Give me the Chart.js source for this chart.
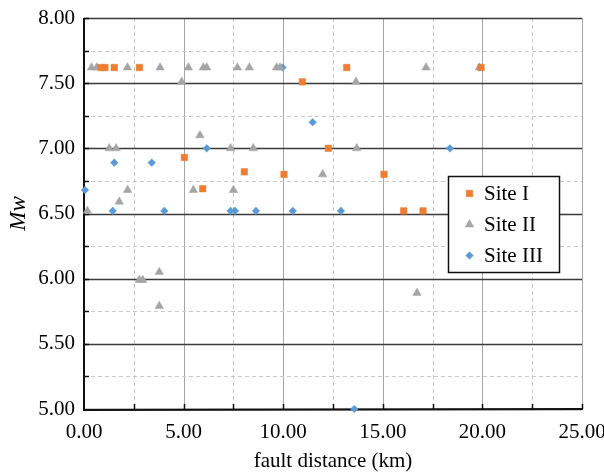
<!DOCTYPE html>
<html>
<head>
<meta charset="utf-8">
<script src="https://cdn.jsdelivr.net/npm/chart.js@4/dist/chart.umd.min.js"></script>
<style>
html,body{margin:0;padding:0;background:#fff;}
canvas{display:block;}
#pre{position:absolute;left:-1000px;top:0;font-family:"Liberation Serif";font-size:21px;}
#pre2{position:absolute;left:-1000px;top:30px;font-family:"Liberation Serif";font-size:21px;font-style:italic;}
</style>
</head>
<body>
<div id="pre">0.00 Site</div><div id="pre2">Mw</div>
<canvas id="c" width="604" height="472"></canvas>
<script>
// ---- Data ----
const seriesNames = ["Site I", "Site II", "Site III"];
const xTickValues = [0, 5, 10, 15, 20, 25];
const yTickValues = [5.0, 5.5, 6.0, 6.5, 7.0, 7.5, 8.0];

const siteI_x = [0.85, 1.05, 1.52, 2.78, 13.19, 19.93, 10.96, 12.27, 5.04, 8.05, 10.04, 15.06, 5.96, 16.05, 17.02];
const siteI_y = [7.62, 7.62, 7.62, 7.62, 7.62, 7.62, 7.51, 7.00, 6.93, 6.82, 6.80, 6.80, 6.69, 6.52, 6.52];

const siteII_x = [0.38, 0.64, 2.18, 3.82, 5.24, 5.99, 6.16, 7.70, 8.30, 9.67, 9.84, 17.17, 19.85, 4.90, 13.65, 5.82, 1.27, 1.61, 7.36, 8.50, 13.69, 11.98, 2.19, 5.49, 7.50, 1.77, 0.17, 2.78, 2.95, 3.78, 3.78, 16.72];
const siteII_y = [7.62, 7.62, 7.62, 7.62, 7.62, 7.62, 7.62, 7.62, 7.62, 7.62, 7.62, 7.62, 7.62, 7.51, 7.51, 7.10, 7.00, 7.00, 7.00, 7.00, 7.00, 6.80, 6.68, 6.68, 6.68, 6.59, 6.52, 5.99, 5.99, 6.05, 5.79, 5.89];

const siteIII_x = [9.97, 11.48, 18.37, 6.16, 1.52, 3.40, 0.05, 1.44, 4.03, 7.36, 7.58, 8.63, 10.48, 12.90, 13.57];
const siteIII_y = [7.62, 7.20, 7.00, 7.00, 6.89, 6.89, 6.68, 6.52, 6.52, 6.52, 6.52, 6.52, 6.52, 6.52, 5.00];

const colors = ["#ED7D31", "#A5A5A5", "#5B9BD5"];
const styles = ["rect", "triangle", "rectRot"];
const radii = [4.6, 4.9, 3.8];

function pts(xs, ys){ return xs.map((x,i)=>({x:x, y:ys[i]})); }
const seriesData = [pts(siteI_x, siteI_y), pts(siteII_x, siteII_y), pts(siteIII_x, siteIII_y)];

const SERIF = '"Liberation Serif", "Times New Roman", serif';

const gridPlugin = {
  id: 'gridPlugin',
  beforeDatasetsDraw(chart){
    const ctx = chart.ctx, xs = chart.scales.x, ys = chart.scales.y, a = chart.chartArea;
    ctx.save();
    for (let v = 0; v <= 25.0001; v += 2.5){
      const px = Math.round(xs.getPixelForValue(v)) + 0.5;
      const major = Math.abs(v/5 - Math.round(v/5)) < 1e-6;
      ctx.beginPath();
      ctx.lineWidth = 1;
      if (major){ ctx.setLineDash([]); ctx.strokeStyle = '#A6A6A6'; }
      else { ctx.setLineDash([4,3]); ctx.strokeStyle = '#C9C9C9'; }
      ctx.moveTo(px, a.top); ctx.lineTo(px, a.bottom); ctx.stroke();
    }
    for (let v = 5; v <= 8.0001; v += 0.25){
      const py = Math.round(ys.getPixelForValue(v)) + 0.5;
      const major = Math.abs(v/0.5 - Math.round(v/0.5)) < 1e-6;
      ctx.beginPath();
      if (major){ ctx.setLineDash([]); ctx.strokeStyle = '#3A3A3A'; ctx.lineWidth = 1.3; }
      else { ctx.setLineDash([4,3]); ctx.strokeStyle = '#C9C9C9'; ctx.lineWidth = 1; }
      ctx.moveTo(a.left, py); ctx.lineTo(a.right, py); ctx.stroke();
    }
    ctx.setLineDash([]);
    ctx.strokeStyle = '#111'; ctx.lineWidth = 2;
    ctx.beginPath(); ctx.moveTo(a.left, a.top); ctx.lineTo(a.left, a.bottom + 1); ctx.lineTo(a.right + 1, a.bottom); ctx.stroke();
    ctx.lineWidth = 1.5;
    for (let v = 2.5; v <= 25.0001; v += 2.5){
      const px = Math.round(xs.getPixelForValue(v)) + 0.5;
      ctx.beginPath(); ctx.moveTo(px, a.bottom); ctx.lineTo(px, a.bottom - 5); ctx.stroke();
    }
    for (let v = 5.25; v <= 8.0001; v += 0.25){
      const py = Math.round(ys.getPixelForValue(v)) + 0.5;
      ctx.beginPath(); ctx.moveTo(a.left, py); ctx.lineTo(a.left + 5, py); ctx.stroke();
    }
    ctx.restore();
  }
};

const legendPlugin = {
  id: 'legendPlugin',
  afterDatasetsDraw(chart){
    const ctx = chart.ctx;
    const bx = 448.5, by = 176.5, bw = 111, bh = 96;
    ctx.save();
    ctx.fillStyle = '#fff';
    ctx.fillRect(bx, by, bw, bh);
    ctx.strokeStyle = '#111'; ctx.lineWidth = 1.5;
    ctx.strokeRect(bx, by, bw, bh);
    const rows = [193.5, 224.5, 255.5];
    ctx.font = "21px " + SERIF;
    ctx.textBaseline = 'middle';
    seriesNames.forEach((name, i) => {
      ctx.fillStyle = colors[i]; ctx.strokeStyle = colors[i]; ctx.lineWidth = 0.5;
      Chart.helpers.drawPoint(ctx, {pointStyle: styles[i], radius: radii[i], borderWidth: 0.5, rotation: 0}, 469.5, rows[i]);
      ctx.fillStyle = '#000';
      ctx.fillText(name, 484, rows[i] + 1);
    });
    ctx.restore();
  }
};

function build(){
  new Chart(document.getElementById('c'), {
    type: 'scatter',
    data: {
      datasets: seriesData.map((d, i) => ({
        label: seriesNames[i],
        data: d,
        pointStyle: styles[i],
        pointRadius: radii[i],
        pointHoverRadius: radii[i],
        backgroundColor: colors[i],
        borderColor: colors[i],
        borderWidth: 0.5,
        clip: false
      }))
    },
    options: {
      responsive: false,
      animation: false,
      devicePixelRatio: 1,
      layout: { padding: { top: 18, right: 22, left: 0, bottom: 0 } },
      plugins: { legend: { display: false }, tooltip: { enabled: false } },
      scales: {
        x: {
          type: 'linear', min: 0, max: 25,
          afterBuildTicks(scale){ scale.ticks = xTickValues.map(v => ({value: v})); },
          ticks: { callback: v => Number(v).toFixed(2), color: '#000', font: { family: SERIF, size: 21 }, padding: 11, maxRotation: 0, autoSkip: false },
          grid: { display: false, drawTicks: false },
          border: { display: false },
          title: { display: true, text: 'fault distance (km)', color: '#000', font: { family: SERIF, size: 21 }, padding: { top: 0, bottom: -2 } },
          afterFit(scale){ scale.height = 63; scale.paddingLeft = 0; scale.paddingRight = 0; }
        },
        y: {
          type: 'linear', min: 5, max: 8,
          afterBuildTicks(scale){ scale.ticks = yTickValues.map(v => ({value: v})); },
          ticks: { callback: v => Number(v).toFixed(2), color: '#000', font: { family: SERIF, size: 21 }, padding: 9, autoSkip: false },
          grid: { display: false, drawTicks: false },
          border: { display: false },
          title: { display: true, text: 'Mw', color: '#000', font: { family: SERIF, size: 23, style: 'italic' }, padding: { top: 5, bottom: 0 } },
          afterFit(scale){ scale.width = 84; scale.paddingTop = 0; scale.paddingBottom = 0; }
        }
      }
    },
    plugins: [gridPlugin, legendPlugin]
  });
}

if (document.fonts && document.fonts.load) {
  Promise.all([
    document.fonts.load('21px "Liberation Serif"'),
    document.fonts.load('italic 23px "Liberation Serif"')
  ]).then(build, build);
} else { build(); }
</script>
</body>
</html>
